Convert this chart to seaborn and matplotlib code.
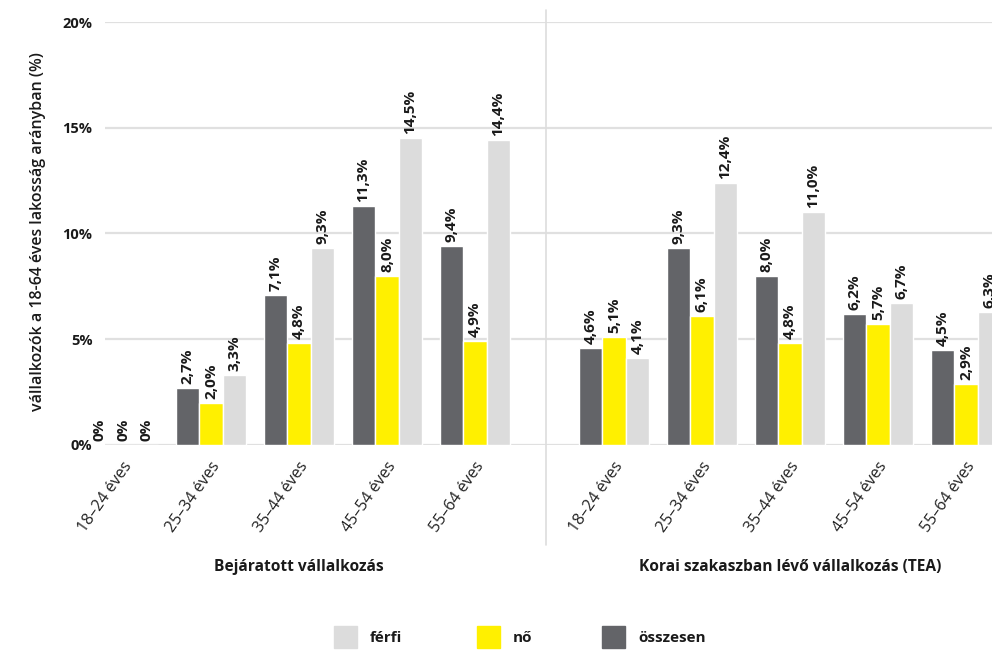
import matplotlib
matplotlib.use("Agg")
import matplotlib.pyplot as plt
import matplotlib.transforms as mtransforms
import seaborn as sns
import pandas as pd
from matplotlib.patches import Rectangle
from matplotlib.lines import Line2D

# Age groups and series
ages = ["18–24 éves", "25–34 éves", "35–44 éves", "45–54 éves", "55–64 éves"]
series = ["összesen", "nő", "férfi"]
legend_order = ["férfi", "nő", "összesen"]
colors = {"összesen": "#636468", "nő": "#FFF000", "férfi": "#DCDCDC"}

panel_titles = ["Bejáratott vállalkozás", "Korai szakaszban lévő vállalkozás (TEA)"]

# Established businesses (%)
est_total = [0.0, 2.7, 7.1, 11.3, 9.4]
est_female = [0.0, 2.0, 4.8, 8.0, 4.9]
est_male = [0.0, 3.3, 9.3, 14.5, 14.4]

# Early-stage entrepreneurial activity, TEA (%)
tea_total = [4.6, 9.3, 8.0, 6.2, 4.5]
tea_female = [5.1, 6.1, 4.8, 5.7, 2.9]
tea_male = [4.1, 12.4, 11.0, 6.7, 6.3]

yticks = [0, 5, 10, 15, 20]
ytick_labels = ["0%", "5%", "10%", "15%", "20%"]
ylabel = "vállalkozók a 18-64 éves lakosság arányban (%)"


def long_frame(total, female, male):
    rows = []
    for name, vals in zip(series, [total, female, male]):
        for a, v in zip(ages, vals):
            rows.append({"age": a, "group": name, "value": v})
    return pd.DataFrame(rows)


def fmt(v):
    if v == 0:
        return "0%"
    return f"{v:.1f}".replace(".", ",") + "%"


sns.set_style("white")
plt.rcParams["font.family"] = ["Open Sans", "DejaVu Sans"]

W, H = 992, 655
fig = plt.figure(figsize=(W / 100, H / 100), dpi=100)

y0, y1 = 445, 22
bottom = 1 - y0 / H
height = (y0 - y1) / H
ax_left = fig.add_axes([105 / W, bottom, (546 - 105) / W, height])
ax_right = fig.add_axes([546 / W, bottom, (W - 546) / W, height])

step = 88.0
panels = [
    (ax_left, long_frame(est_total, est_female, est_male), 123, 105, 546),
    (ax_right, long_frame(tea_total, tea_female, tea_male), 614, 546, W),
]

label_shift = mtransforms.ScaledTranslation(6 / 100, 0, fig.dpi_scale_trans)
text_pad = mtransforms.ScaledTranslation(0, 4 / 100, fig.dpi_scale_trans)

for i, (ax, df, c0, xl, xr) in enumerate(panels):
    sns.barplot(data=df, x="age", y="value", hue="group", hue_order=series,
                order=ages, palette=colors, saturation=1, width=0.8,
                errorbar=None, legend=False, ax=ax)
    ax.set_xlim((xl - c0) / step, (xr - c0) / step)
    ax.set_ylim(0, 20)
    ax.set_yticks(yticks)
    ax.yaxis.grid(True, color="#e0e0e0", lw=1.6)
    ax.xaxis.grid(False)
    ax.set_axisbelow(True)
    for s in ax.spines.values():
        s.set_visible(False)
    ax.tick_params(length=0)
    ax.set_xlabel("")
    ax.set_ylabel("")
    ax.set_xticks(range(len(ages)))
    ax.set_xticklabels(ages, rotation=55, ha="right", va="center",
                       rotation_mode="anchor", fontsize=11.5, color="#222222")
    ax.tick_params(axis="x", pad=13)
    for lab in ax.get_xticklabels():
        lab.set_transform(lab.get_transform() + label_shift)

    # value labels above every bar, including the zero-height ones
    for name in series:
        sub = df[df["group"] == name]
        for k, v in enumerate(sub["value"].tolist()):
            off = (series.index(name) - 1) * 0.8 / 3
            ax.text(k + off, v, fmt(v), rotation=90, ha="center", va="bottom",
                    fontsize=11, fontweight="bold", color="#1a1a1a",
                    transform=ax.transData + text_pad)

    if i == 0:
        ax.set_yticklabels(ytick_labels, fontsize=10.5, fontweight="bold",
                           color="#1a1a1a")
        ax.tick_params(axis="y", pad=9)
    else:
        ax.set_yticklabels([])
    # panel title, centred under the group range
    cx = (c0 + 2 * step) / W
    fig.text(cx, 1 - 567 / H, panel_titles[i], ha="center", va="center",
             fontsize=11.2, fontweight="bold", color="#1a1a1a")

# divider between the two panels
fig.add_artist(Line2D([546 / W, 546 / W], [1 - 10 / H, 1 - 545 / H],
                      color="#dddddd", lw=1.2))

fig.text(38 / W, 1 - 232 / H, ylabel, rotation=90, ha="center", va="center",
         fontsize=11.5, fontweight="semibold", color="#1a1a1a")

# legend
legend_x = {"férfi": 334, "nő": 477, "összesen": 602}
for name in legend_order:
    x = legend_x[name]
    fig.add_artist(Rectangle((x / W, 1 - 648 / H), 23 / W, 22 / H,
                             transform=fig.transFigure, color=colors[name]))
    fig.text((x + 36) / W, 1 - 638 / H, name, ha="left", va="center",
             fontsize=11, fontweight="bold", color="#1a1a1a")

fig.savefig("out.png", dpi=100)
